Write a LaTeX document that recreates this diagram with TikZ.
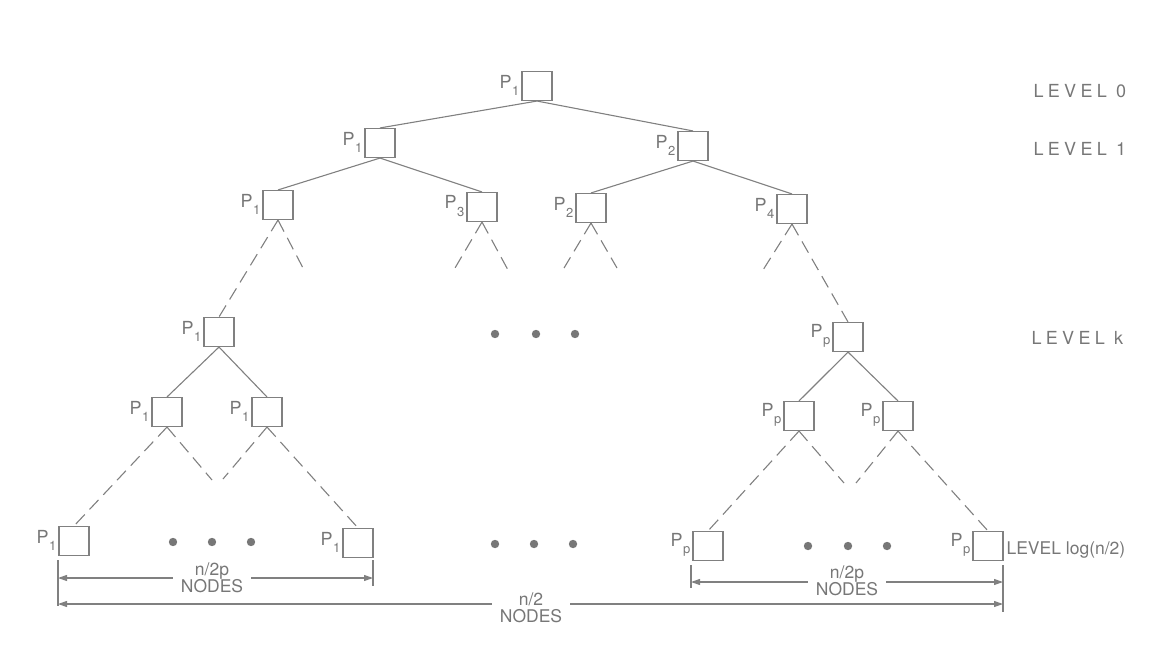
\documentclass[tikz,border=0pt]{standalone}
\usepackage{fontspec}
\setmainfont{TeX Gyre Heros}
\newfontfamily\lvfont[LetterSpace=24]{TeX Gyre Heros}
\usetikzlibrary{arrows.meta}
\definecolor{ink}{HTML}{777777}
\definecolor{lineink}{HTML}{808080}
\newcommand\Psb[1]{\fontsize{18}{18}\selectfont P\kern0.5pt\raisebox{-0.75ex}{\fontsize{13}{13}\selectfont #1}}
\begin{document}
\begin{tikzpicture}[x=1pt,y=-1pt,line width=1.1pt,
  font=\fontsize{17.5}{17}\selectfont,
  box/.style={draw=lineink,minimum width=30pt,minimum height=29pt,inner sep=0pt},
  plab/.style={text=ink,inner sep=1.5pt,yshift=1pt},
  edge/.style={draw=lineink},
  dsh/.style={draw=lineink,dash pattern=on 13pt off 7pt},
  dimarr/.style={draw=lineink,{Triangle[length=9pt,width=6pt]}-{Triangle[length=9pt,width=6pt]}},
  tick/.style={draw=lineink},
  dimtxt/.style={text=ink,fill=white,align=center,inner xsep=8pt,inner ysep=0pt},
  lvl/.style={text=ink,anchor=west,inner sep=0pt},
  dot/.style={fill=ink}]
\useasboundingbox (0,0) rectangle (1158,652);
% boxes
\node[box,label={[plab]left:\Psb{1}}] (r) at (537,86) {};
\node[box,label={[plab]left:\Psb{1}}] (a1) at (380,143) {};
\node[box,label={[plab]left:\Psb{2}}] (a2) at (693,146) {};
\node[box,label={[plab]left:\Psb{1}}] (b1) at (278,205) {};
\node[box,label={[plab]left:\Psb{3}}] (b3) at (482,207) {};
\node[box,label={[plab]left:\Psb{2}}] (b2) at (591,208) {};
\node[box,label={[plab]left:\Psb{4}}] (b4) at (792,209) {};
\node[box,label={[plab]left:\Psb{1}}] (k1) at (219,332) {};
\node[box,label={[plab]left:\Psb{p}}] (kp) at (848,337) {};
\node[box,label={[plab]left:\Psb{1}}] (c1) at (167,412) {};
\node[box,label={[plab]left:\Psb{1}}] (c2) at (267,412) {};
\node[box,label={[plab]left:\Psb{p}}] (c3) at (799,416) {};
\node[box,label={[plab]left:\Psb{p}}] (c4) at (898,416) {};
\node[box,label={[plab]left:\Psb{1}}] (l1) at (74,541) {};
\node[box,label={[plab]left:\Psb{1}}] (l2) at (358,543) {};
\node[box,label={[plab]left:\Psb{p}}] (l3) at (708,546) {};
\node[box,label={[plab]left:\Psb{p}}] (l4) at (988,546) {};
% solid edges
\draw[edge] (r.south) -- (a1.north);
\draw[edge] (r.south) -- (a2.north);
\draw[edge] (a1.south) -- (b1.north);
\draw[edge] (a1.south) -- (b3.north);
\draw[edge] (a2.south) -- (b2.north);
\draw[edge] (a2.south) -- (b4.north);
\draw[edge] (k1.south) -- (c1.north);
\draw[edge] (k1.south) -- (c2.north);
\draw[edge] (kp.south) -- (c3.north);
\draw[edge] (kp.south) -- (c4.north);
% dashed stubs
\coordinate (s1) at (303,268);
\coordinate (s2) at (455,268);
\coordinate (s3) at (508,270);
\coordinate (s4) at (564,268);
\coordinate (s5) at (617,268);
\coordinate (s6) at (763,270);
\coordinate (s7) at (212,480);
\coordinate (s8) at (223,479);
\coordinate (s9) at (844,483);
\coordinate (s10) at (856,483);
\draw[dsh] (b1.south) -- (k1.north);
\draw[dsh] (b1.south) -- (s1);
\draw[dsh] (b3.south) -- (s2);
\draw[dsh] (b3.south) -- (s3);
\draw[dsh] (b2.south) -- (s4);
\draw[dsh] (b2.south) -- (s5);
\draw[dsh] (b4.south) -- (s6);
\draw[dsh] (b4.south) -- (kp.north);
\draw[dsh] (c1.south) -- (l1.north);
\draw[dsh] (c1.south) -- (s7);
\draw[dsh] (c2.south) -- (s8);
\draw[dsh] (c2.south) -- (l2.north);
\draw[dsh] (c3.south) -- (l3.north);
\draw[dsh] (c3.south) -- (s9);
\draw[dsh] (c4.south) -- (s10);
\draw[dsh] (c4.south) -- (l4.north);
% dots
\foreach \x in {495,536,575} \fill[dot] (\x,334) circle (4.2);
\foreach \x in {173,212,251} \fill[dot] (\x,542) circle (4.2);
\foreach \x in {495,534,573} \fill[dot] (\x,544) circle (4.2);
\foreach \x in {808,848,887} \fill[dot] (\x,546) circle (4.2);
% dimension lines
\coordinate (t1a) at (58,560);  \coordinate (t1b) at (58,606);
\coordinate (t2a) at (373,560); \coordinate (t2b) at (373,586);
\coordinate (t3a) at (691,565); \coordinate (t3b) at (691,588);
\coordinate (t4a) at (1003,565); \coordinate (t4b) at (1003,612);
\draw[tick] (t1a) -- (t1b);
\draw[tick] (t2a) -- (t2b);
\draw[tick] (t3a) -- (t3b);
\draw[tick] (t4a) -- (t4b);
\coordinate (d1l) at (58,578);  \coordinate (d1r) at (373,578);
\coordinate (d2l) at (691,582); \coordinate (d2r) at (1003,582);
\coordinate (d3l) at (58,604);  \coordinate (d3r) at (1003,604);
\draw[dimarr] (d1l) -- (d1r);
\draw[dimarr] (d2l) -- (d2r);
\draw[dimarr] (d3l) -- (d3r);
\node[dimtxt] (m1) at (212,578) {n/2p\\NODES};
\node[dimtxt] (m2) at (847,581) {n/2p\\NODES};
\node[dimtxt] (m3) at (531,608) {n/2\\NODES};
% level labels
\node[lvl,font=\fontsize{18}{18}\selectfont] (v0) at (1033,91) {\lvfont LEVEL 0};
\node[lvl,font=\fontsize{18}{18}\selectfont] (v1) at (1033,149) {\lvfont LEVEL 1};
\node[lvl,font=\fontsize{18}{18}\selectfont] (vk) at (1031,338) {\lvfont LEVEL k};
\node[lvl] (vl) at (1006,550) {LEVEL log(n/2)};
\end{tikzpicture}
\end{document}
